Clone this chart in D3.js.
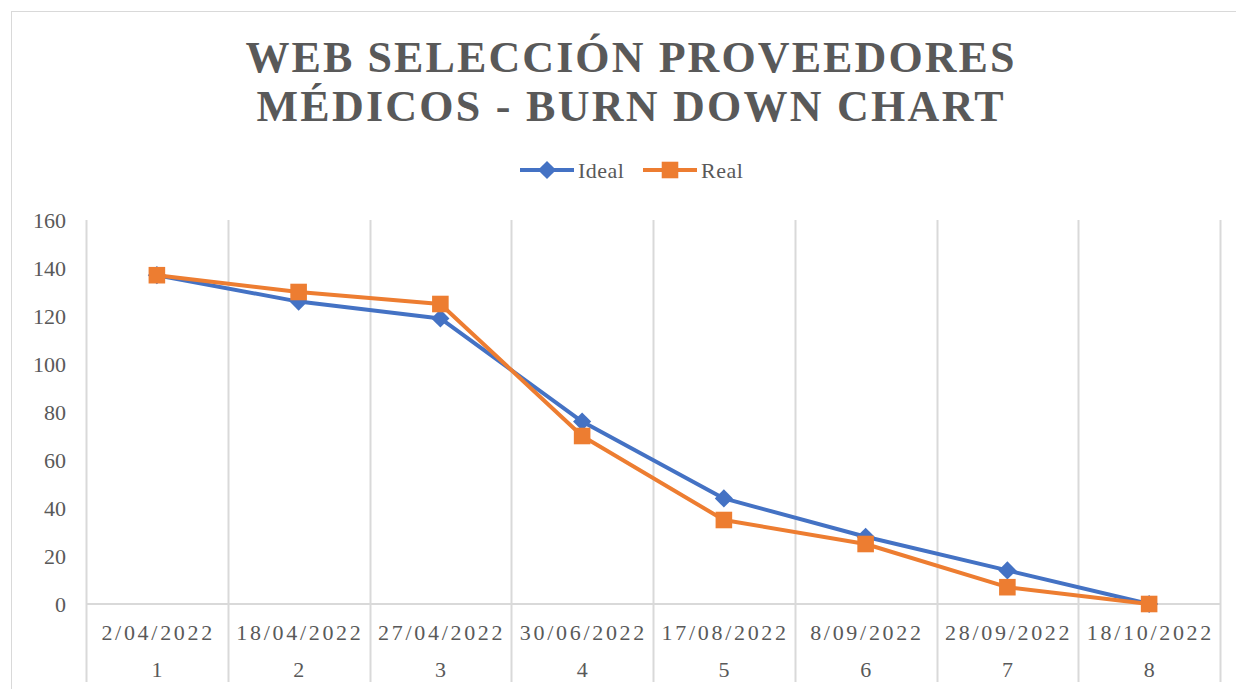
<!DOCTYPE html>
<html>
<head>
<meta charset="utf-8">
<script src="https://cdn.jsdelivr.net/npm/d3@7"></script>
<style>
  body { margin: 0; background: #fff; }
  text { font-family: "Liberation Serif", "Times New Roman", serif; fill: #595959; }
</style>
</head>
<body>
<div id="chart"></div>
<script>
// burn down data
const fechas = ["2/04/2022", "18/04/2022", "27/04/2022", "30/06/2022", "17/08/2022", "8/09/2022", "28/09/2022", "18/10/2022"];
const sprints = ["1", "2", "3", "4", "5", "6", "7", "8"];
const ideal = [137, 126, 119, 76, 44, 28, 14, 0];
const real = [137, 130, 125, 70, 35, 25, 7, 0];
const yTicks = [0, 20, 40, 60, 80, 100, 120, 140, 160];
const titleLines = ["WEB SELECCIÓN PROVEEDORES", "MÉDICOS - BURN DOWN CHART"];

const width = 1236, height = 689;
const margin = {top: 220, right: 16, bottom: 85, left: 86};

const svg = d3.select("#chart").append("svg")
    .attr("width", width)
    .attr("height", height);

// chart frame
svg.append("rect")
    .attr("x", 11.5).attr("y", 11.5)
    .attr("width", width + 20).attr("height", height + 20)
    .attr("fill", "none")
    .attr("stroke", "#d9d9d9");

// title
svg.append("g").selectAll("text")
    .data(titleLines)
    .enter().append("text")
    .attr("x", 630)
    .attr("y", (d, i) => 72 + i * 49)
    .attr("text-anchor", "middle")
    .attr("textLength", (d, i) => i === 0 ? 769 : 747)
    .attr("lengthAdjust", "spacing")
    .style("font-size", "44px")
    .style("font-weight", "bold")
    .text(d => d);

// scales
let x = d3.scaleBand()
    .domain(d3.range(fechas.length))
    .range([margin.left, width - margin.right])
    .padding(0);
let y = d3.scaleLinear()
    .domain([0, 160])
    .range([height - margin.bottom, margin.top]);

const xc = i => x(i) + x.bandwidth() / 2;

// vertical grid lines, run down through the label area
let bounds = d3.range(fechas.length).map(i => x(i)).concat([x(fechas.length - 1) + x.bandwidth()]);
svg.append("g").attr("class", "grid")
    .selectAll("line")
    .data(bounds)
    .enter().append("line")
    .attr("x1", d => Math.round(d) + 0.5)
    .attr("x2", d => Math.round(d) + 0.5)
    .attr("y1", y(160))
    .attr("y2", 682)
    .attr("stroke", "#d9d9d9")
    .attr("stroke-width", 2);

// zero line
svg.append("line")
    .attr("x1", x.range()[0]).attr("x2", x.range()[1])
    .attr("y1", y(0)).attr("y2", y(0))
    .attr("stroke", "#d9d9d9")
    .attr("stroke-width", 2);

// y tick labels
svg.append("g").selectAll("text")
    .data(yTicks)
    .enter().append("text")
    .attr("x", 66)
    .attr("y", d => y(d))
    .attr("dy", "0.35em")
    .attr("text-anchor", "end")
    .style("font-size", "22px")
    .text(d => d);

// category labels - two levels
svg.append("g").selectAll("text")
    .data(fechas)
    .enter().append("text")
    .attr("x", (d, i) => xc(i) + 1.3)
    .attr("y", 640)
    .attr("text-anchor", "middle")
    .style("font-size", "22px")
    .style("letter-spacing", "2.7px")
    .text(d => d);

svg.append("g").selectAll("text")
    .data(sprints)
    .enter().append("text")
    .attr("x", (d, i) => xc(i))
    .attr("y", 677)
    .attr("text-anchor", "middle")
    .style("font-size", "22px")
    .text(d => d);

// series - excel style diamond is just a square turned 45deg
const series = [
    {name: "Ideal", values: ideal, color: "#4472C4", size: 165, rotate: 45},
    {name: "Real", values: real, color: "#ED7D31", size: 275, rotate: 0}
];

let line = d3.line()
    .x((d, i) => xc(i))
    .y(d => y(d));

series.forEach(s => {
    svg.append("path")
        .datum(s.values)
        .attr("d", line)
        .attr("fill", "none")
        .attr("stroke", s.color)
        .attr("stroke-width", 4)
        .attr("stroke-linejoin", "round");

    svg.append("g").selectAll("path")
        .data(s.values)
        .enter().append("path")
        .attr("d", d3.symbol().type(d3.symbolSquare).size(s.size))
        .attr("transform", (d, i) => `translate(${xc(i)},${y(d)}) rotate(${s.rotate})`)
        .attr("fill", s.color);
});

// legend
let legend = svg.append("g").attr("class", "legend");
const legendX = [520, 643];
series.forEach((s, i) => {
    let g = legend.append("g").attr("transform", `translate(${legendX[i]},170)`);
    g.append("line")
        .attr("x1", 0).attr("x2", 54)
        .attr("stroke", s.color)
        .attr("stroke-width", 4);
    g.append("path")
        .attr("d", d3.symbol().type(d3.symbolSquare).size(s.size))
        .attr("transform", `translate(27,0) rotate(${s.rotate})`)
        .attr("fill", s.color);
    g.append("text")
        .attr("x", 58)
        .attr("dy", "0.35em")
        .style("font-size", "22px")
        .style("letter-spacing", "0.5px")
        .text(s.name);
});
</script>
</body>
</html>
